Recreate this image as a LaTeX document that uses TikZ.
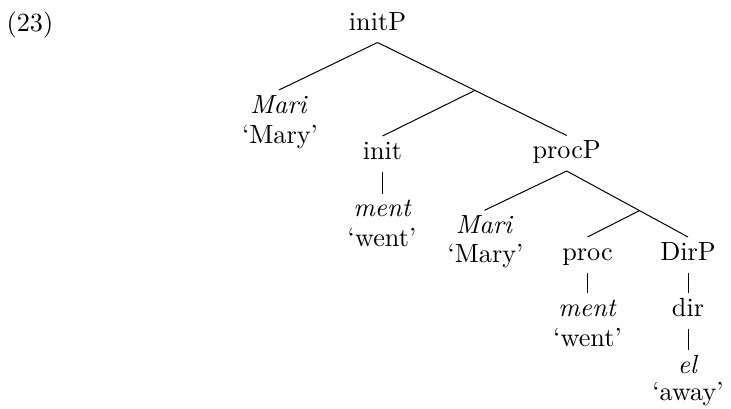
\documentclass[tikz,border=0pt]{standalone}
\usetikzlibrary{calc}
\begin{document}
\begin{tikzpicture}[x=0.4pt,y=-0.4pt,
  every node/.style={font=\fontsize{10.5}{12.6}\selectfont},
  tnode/.style={anchor=base,inner sep=0pt,text height=6.6pt,text depth=2.4pt,outer xsep=0pt,outer ysep=2.6pt},
  gloss/.style={anchor=base,inner sep=0pt},
  branch/.style={line width=0.4pt}]
\useasboundingbox (0,0) rectangle (731,408);
\node[gloss] (num) at (30,31) {(23)};
\node[tnode] (initP) at (377.5,30) {initP};
\node[tnode] (mari1) at (279,113) {\textit{Mari}};
\node[gloss] (mary1) at (280,143) {`Mary'};
\node[tnode] (init) at (382.5,159) {init};
\node[tnode] (procP) at (566.7,158.5) {procP};
\node[tnode] (ment1) at (382.5,216.7) {\textit{ment}};
\node[gloss] (went1) at (382,246.7) {`went'};
\node[tnode] (mari2) at (484.5,233.3) {\textit{Mari}};
\node[gloss] (mary2) at (485.5,262) {`Mary'};
\node[tnode] (proc) at (587.5,260) {proc};
\node[tnode] (dirP) at (688,260) {DirP};
\node[tnode] (ment2) at (587.5,316) {\textit{ment}};
\node[gloss] (went2) at (587.5,346) {`went'};
\node[tnode] (dir) at (688,316) {dir};
\node[tnode] (el) at (688,373.3) {\textit{el}};
\node[gloss] (away) at (688,400) {`away'};
\coordinate (bar1) at ($(initP.south)!0.515!(procP.north)$);
\coordinate (bar2) at ($(procP.south)!0.6!(dirP.north)$);
\draw[branch] (initP.south) -- (mari1.north);
\draw[branch] (initP.south) -- (bar1);
\draw[branch] (bar1) -- (procP.north);
\draw[branch] (bar1) -- (init.north);
\draw[branch] (init.south) -- (ment1.north);
\draw[branch] (procP.south) -- (mari2.north);
\draw[branch] (procP.south) -- (bar2);
\draw[branch] (bar2) -- (dirP.north);
\draw[branch] (bar2) -- (proc.north);
\draw[branch] (proc.south) -- (ment2.north);
\draw[branch] (dirP.south) -- (dir.north);
\draw[branch] (dir.south) -- (el.north);
\end{tikzpicture}
\end{document}
